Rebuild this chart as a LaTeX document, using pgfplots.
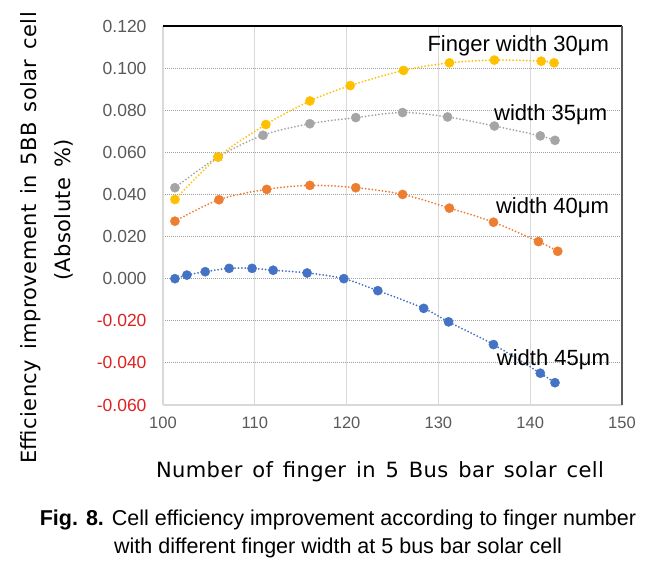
\documentclass[border=0pt]{standalone}
\usepackage{pgfplots}
\pgfplotsset{compat=1.18}
\usepackage{fontspec}
\setmainfont{Liberation Sans}
\newfontfamily\labfont[LetterSpace=2,WordSpace=1.4]{DejaVu Sans}
\definecolor{cyel}{HTML}{FFC000}
\definecolor{cgry}{HTML}{A5A5A5}
\definecolor{corg}{HTML}{ED7D31}
\definecolor{cblu}{HTML}{4472C4}
\definecolor{tickgray}{HTML}{595959}
\definecolor{negred}{HTML}{E02020}
\definecolor{lgrid}{HTML}{D9D9D9}
\definecolor{dgrid}{HTML}{A0A0A0}
\pgfplotsset{
  trend/.style={no marks, smooth, tension=0.55, line width=2pt, line cap=round, dash pattern=on 0pt off 3.4pt},
  pts/.style={only marks, mark=*, mark size=4.6pt, mark options={draw=none}},
}
\begin{document}
\begin{tikzpicture}[x=1pt,y=1pt]
\useasboundingbox (0,0) rectangle (658,566);
\begin{axis}[at={(163pt,161pt)}, anchor=south west, scale only axis,
  width=459pt, height=379pt,
  xmin=100, xmax=150, ymin=-0.06, ymax=0.12,
  xtick={100,110,120,130,140,150},
  ytick={-0.06,-0.04,-0.02,0,0.02,0.04,0.06,0.08,0.1,0.12},
  yticklabels={{\color{negred}-0.060},{\color{negred}-0.040},{\color{negred}-0.020},0.000,0.020,0.040,0.060,0.080,0.100,0.120},
  /pgf/number format/assume math mode=true,
  xticklabel style={font=\fontsize{16.5}{16.5}\selectfont, text=tickgray, yshift=-8pt},
  yticklabel style={font=\fontsize{17.5}{17.5}\selectfont, text=tickgray, xshift=-13pt},
  major tick length=0pt,
  axis line style={draw=none},
  xmajorgrids, ymajorgrids,
  x grid style={lgrid, line width=1.2pt},
  y grid style={dgrid, line width=0.9pt, dash pattern=on 1pt off 1pt},
  clip=false,
]
% trend lines
\addplot[trend, cyel] coordinates {(101.3,0.0376)(106.0,0.0578)(111.2,0.0732)(116.0,0.0844)(120.4,0.0917)(126.2,0.0989)(131.2,0.1025)(136.1,0.1038)(141.2,0.1033)(142.6,0.1025)};
\addplot[trend, cgry] coordinates {(101.3,0.0432)(106.0,0.0578)(110.9,0.0681)(116.0,0.0736)(121.0,0.0765)(126.1,0.0789)(131.0,0.0768)(136.1,0.0725)(141.1,0.0678)(142.7,0.0657)};
\addplot[trend, corg] coordinates {(101.3,0.0273)(106.1,0.0375)(111.3,0.0424)(116.0,0.0443)(121.0,0.0432)(126.1,0.0400)(131.2,0.0335)(136.0,0.0268)(140.9,0.0176)(143.0,0.0130)};
\addplot[trend, cblu] coordinates {(101.3,0.0000)(102.6,0.0017)(104.6,0.0033)(107.2,0.0049)(109.7,0.0049)(112.0,0.0040)(115.7,0.0027)(119.7,0.0000)(123.4,-0.0057)(128.4,-0.0141)(131.1,-0.0205)(136.0,-0.0313)(141.1,-0.0449)(142.7,-0.0494)};
% points
\addplot[pts, cblu] coordinates {(101.3,0.0000)(102.6,0.0017)(104.6,0.0033)(107.2,0.0049)(109.7,0.0049)(112.0,0.0040)(115.7,0.0027)(119.7,0.0000)(123.4,-0.0057)(128.4,-0.0141)(131.1,-0.0205)(136.0,-0.0313)(141.1,-0.0449)(142.7,-0.0494)};
\addplot[pts, corg] coordinates {(101.3,0.0273)(106.1,0.0375)(111.3,0.0424)(116.0,0.0443)(121.0,0.0432)(126.1,0.0400)(131.2,0.0335)(136.0,0.0268)(140.9,0.0176)(143.0,0.0130)};
\addplot[pts, cgry] coordinates {(101.3,0.0432)(106.0,0.0578)(110.9,0.0681)(116.0,0.0736)(121.0,0.0765)(126.1,0.0789)(131.0,0.0768)(136.1,0.0725)(141.1,0.0678)(142.7,0.0657)};
\addplot[pts, cyel] coordinates {(101.3,0.0376)(106.0,0.0578)(111.2,0.0732)(116.0,0.0844)(120.4,0.0917)(126.2,0.0989)(131.2,0.1025)(136.1,0.1038)(141.2,0.1033)(142.6,0.1025)};
% borders
\draw[lgrid, line width=1.5pt] (rel axis cs:0,0) -- (rel axis cs:0,1);
\draw[lgrid, line width=1.5pt] (rel axis cs:0,0) -- (rel axis cs:1,0);
\draw[black, line width=1.5pt] (rel axis cs:0,1) -- (rel axis cs:1,1);
\draw[tickgray, line width=1.5pt] (rel axis cs:1,0) -- (rel axis cs:1,1);
% annotations
\node[anchor=east, inner sep=0pt, font=\fontsize{22}{22}\selectfont] at (axis cs:148.6,0.1105) {Finger width 30μm};
\node[anchor=east, inner sep=0pt, font=\fontsize{22}{22}\selectfont] at (axis cs:148.4,0.0781) {width 35μm};
\node[anchor=east, inner sep=0pt, font=\fontsize{22}{22}\selectfont] at (axis cs:148.6,0.0338) {width 40μm};
\node[anchor=east, inner sep=0pt, font=\fontsize{22}{22}\selectfont] at (axis cs:148.7,-0.0386) {width 45μm};
\end{axis}
% axis titles
\node[rotate=90, inner sep=0pt, font=\labfont\fontsize{21}{21}\selectfont] at (31,328) {Efficiency improvement in 5BB solar cell};
\node[rotate=90, inner sep=0pt, font=\labfont\fontsize{21}{21}\selectfont] at (64,356) {(Absolute \%)};
\node[inner sep=0pt, font=\labfont\fontsize{21}{21}\selectfont] at (380,94) {Number of finger in 5 Bus bar solar cell};
% caption
\node[inner sep=0pt, font=\fontsize{21.5}{21.5}\selectfont] at (338,46) {\textbf{Fig. 8.} Cell efficiency improvement according to finger number};
\node[inner sep=0pt, font=\fontsize{21.5}{21.5}\selectfont] at (338,18) {with different finger width at 5 bus bar solar cell};
\end{tikzpicture}
\end{document}
